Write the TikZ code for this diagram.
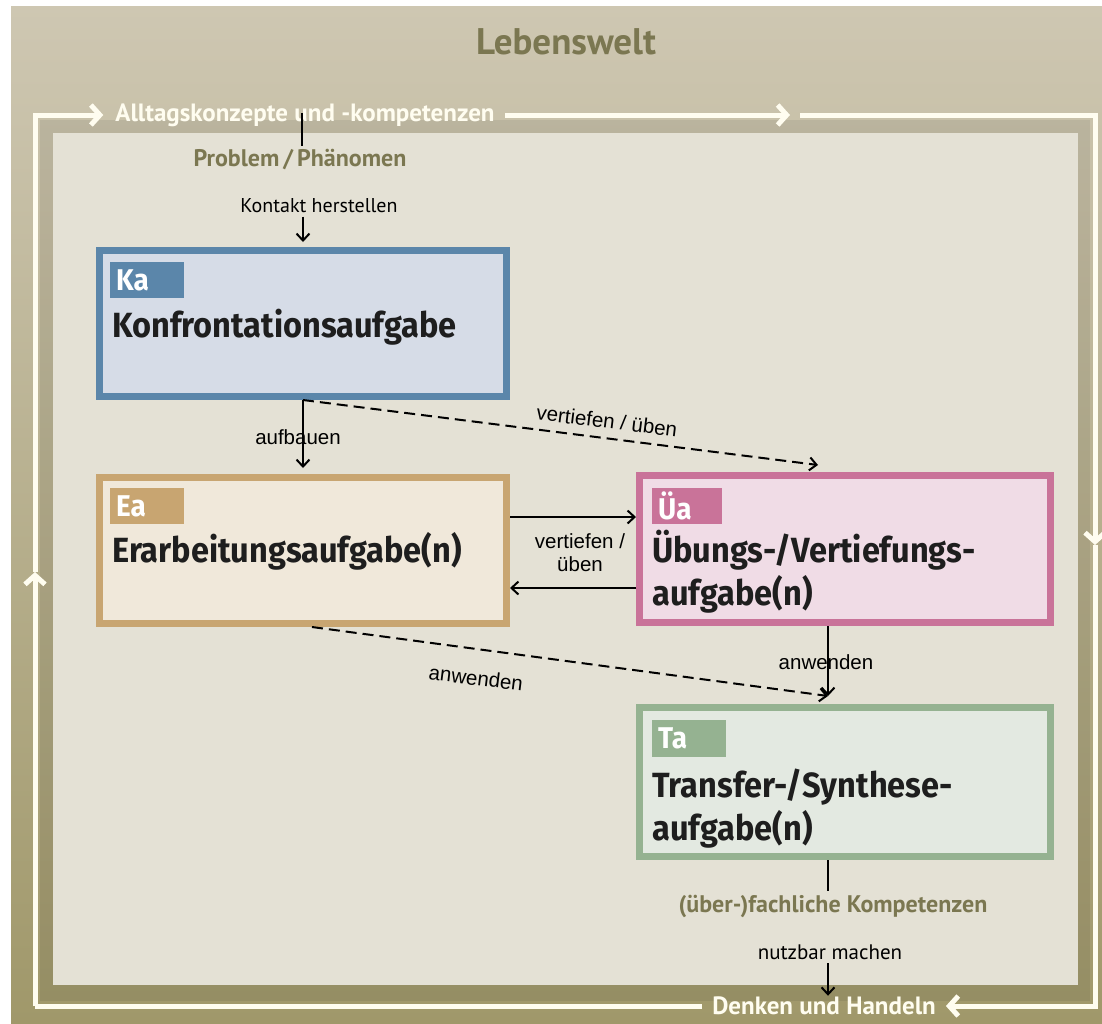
\documentclass[tikz,border=0pt]{standalone}
\usepackage{fontspec}
\setmainfont{Liberation Sans}
\newfontfamily\titelfont[FakeStretch=0.93]{Fira Sans}
\newfontfamily\schmalfont{PT Sans}
\usetikzlibrary{arrows.meta}
\definecolor{hgOben}{RGB}{206,199,178}
\definecolor{hgUnten}{RGB}{160,152,106}
\definecolor{innen}{RGB}{228,225,213}
\definecolor{olivText}{RGB}{123,119,81}
\definecolor{rahmenWeiss}{RGB}{255,253,240}
\definecolor{titelGrau}{RGB}{30,30,30}
\definecolor{kaRand}{RGB}{91,134,170}
\definecolor{kaFill}{RGB}{214,220,231}
\definecolor{eaRand}{RGB}{200,165,113}
\definecolor{eaFill}{RGB}{240,232,218}
\definecolor{uaRand}{RGB}{201,115,153}
\definecolor{uaFill}{RGB}{240,220,230}
\definecolor{taRand}{RGB}{149,178,145}
\definecolor{taFill}{RGB}{227,233,225}

\begin{document}
\begin{tikzpicture}[x=1pt,y=-1pt,
    aufgabe/.style={draw,line width=7pt,minimum width=407pt,minimum height=146pt,inner sep=0pt},
    marke/.style={anchor=north west,text width=62pt,minimum height=36pt,inner xsep=6pt,inner ysep=0pt,align=left,text=white,font=\titelfont\bfseries\fontsize{30}{30}\selectfont},
    titel/.style={anchor=base west,align=left,inner sep=0pt,text=titelGrau,font=\titelfont\bfseries\fontsize{35}{43}\selectfont},
    rahmen/.style={draw=rahmenWeiss,line width=5pt,-{Straight Barb[length=9pt,width=20pt]}},
    rahmenlinie/.style={draw=rahmenWeiss,line width=5pt},
    rahmentext/.style={text=rahmenWeiss,inner sep=0pt,font=\schmalfont\bfseries\fontsize{25}{25}\selectfont},
    oliv/.style={text=olivText,font=\schmalfont\bfseries\fontsize{24}{24}\selectfont},
    schmal/.style={font=\schmalfont\fontsize{20}{20}\selectfont},
    beschriftung/.style={font=\fontsize{20.5}{23}\selectfont,inner sep=1pt},
    pfeil/.style={line width=2pt,-{Straight Barb[length=7pt,width=13pt]}},
    linie/.style={line width=2pt},
    gestrichelt/.style={dash pattern=on 11pt off 6pt}]
    \useasboundingbox (0,0) rectangle (1102,1023);
    % hintergrund
    \fill[white] (0,0) rectangle (1102,1023);
    \shade[top color=hgOben,bottom color=hgUnten] (11,6) rectangle (1102,1023);
    \fill[black,opacity=0.07] (40,120) rectangle (1090,1001);
    \fill[innen] (53,133) rectangle (1078,985);

    \node[text=olivText,font=\schmalfont\bfseries\fontsize{37}{37}\selectfont] (lebenswelt) at (566,42) {Lebenswelt};

    % weisser rahmen
    \node[rahmentext] (alltag) at (305,115) {Alltagskonzepte und -kompetenzen};
    \node[rahmentext] (denken) at (824,1006) {Denken und Handeln};
    \coordinate (lo) at (35,115);
    \coordinate (ro) at (1095,115);
    \coordinate (ru) at (1095,1006);
    \coordinate (lu) at (35,1006);
    \coordinate (links) at (35,572);
    \coordinate (oben) at (790,115);
    \coordinate (obenweiter) at (800,115);
    \coordinate (rechts) at (1095,545);
    \draw[rahmen,shorten >=12pt] (links) -- (lo) -- (alltag.west);
    \draw[rahmen,shorten <=10pt] (alltag.east) -- (oben);
    \draw[rahmen] (obenweiter) -- (ro) -- (rechts);
    \draw[rahmen,shorten >=10pt] (rechts) -- (ru) -- (denken.east);
    \draw[rahmenlinie,shorten <=10pt] (denken.west) -- (lu);
    \draw[rahmen] (lu) -- (links);

    % aufgaben
    \node[aufgabe,draw=kaRand,fill=kaFill] (ka) at (303,323.5) {};
    \node[marke,fill=kaRand] (kamarke) at (110,262) {Ka};
    \node[titel] (katitel) at (112,337) {Konfrontationsaufgabe};

    \node[aufgabe,draw=eaRand,fill=eaFill] (ea) at (303,550.5) {};
    \node[marke,fill=eaRand] (eamarke) at (110,488) {Ea};
    \node[titel] (eatitel) at (112,562) {Erarbeitungsaufgabe(n)};

    \node[aufgabe,draw=uaRand,fill=uaFill,minimum width=411pt,minimum height=147pt] (ua) at (845,549) {};
    \node[marke,fill=uaRand,text width=58pt] (uamarke) at (652,488) {Üa};
    \node[titel] (uatitel) at (652,605) {Übungs-/Vertiefungs-\\aufgabe(n)};

    \node[aufgabe,draw=taRand,fill=taFill,minimum width=411pt,minimum height=149pt] (ta) at (845,782) {};
    \node[marke,fill=taRand,minimum height=37pt] (tamarke) at (652,720) {Ta};
    \node[titel] (tatitel) at (652,840) {Transfer-/Synthese-\\aufgabe(n)};

    % verbindungen
    \coordinate (abzweig) at (302,113);
    \node[oliv] (problem) at (300,160) {Problem\,/\,Phänomen};
    \draw[linie] (abzweig) -- (problem.north -| abzweig);
    \node[schmal] (kontakt) at (319,206) {Kontakt herstellen};
    \draw[pfeil,shorten >=5pt] (kontakt.south -| ka.north) -- (ka.north);

    \draw[pfeil,shorten >=6pt] (ka.south) -- (ea.north);
    \node[beschriftung] (aufbauen) at (298,437) {aufbauen};
    \draw[pfeil,gestrichelt] (ka.south) -- ([yshift=7pt]ua.north -| 818,0);
    \node[beschriftung,rotate=-7] (vertiefen) at (607,421) {vertiefen / üben};

    \draw[pfeil] (ea.east |- 0,517) -- (ua.west |- 0,517);
    \draw[pfeil] (ua.west |- 0,588) -- (ea.east |- 0,588);
    \node[beschriftung,align=center] (mitte) at (580,553) {vertiefen /\\üben};

    \draw[pfeil,shorten >=8pt] (ua.south -| 828,0) -- (ta.north -| 828,0);
    \node[beschriftung] (anwenden) at (826,662) {anwenden};
    \draw[pfeil,gestrichelt] (ea.south -| 312,0) -- ([yshift=8pt]ta.north -| 828,0);
    \node[beschriftung,rotate=-7] (anwendenzwei) at (476,678) {anwenden};

    \node[oliv] (kompetenz) at (833,906) {(über-)fachliche Kompetenzen};
    \draw[linie] (ta.south -| 828,0) -- (kompetenz.north -| 828,0);
    \node[schmal,font=\schmalfont\fontsize{21}{21}\selectfont] (nutzbar) at (830,952) {nutzbar machen};
    \draw[pfeil,shorten >=1pt] (nutzbar.south -| 828,0) -- (denken.north -| 828,0);
\end{tikzpicture}
\end{document}
